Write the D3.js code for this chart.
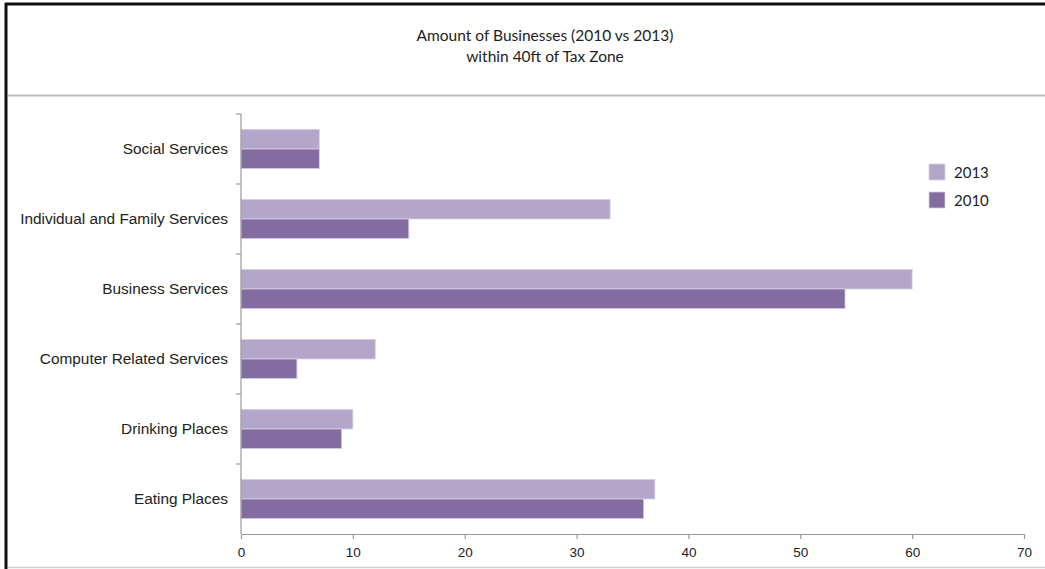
<!DOCTYPE html>
<html><head><meta charset="utf-8">
<script src="https://cdn.jsdelivr.net/npm/d3@7"></script>
<style>
html,body{margin:0;padding:0;background:#fff;}
svg{display:block;}
</style></head>
<body>
<svg id="chart" width="1045" height="569"></svg>
<script>
const categories = ["Social Services","Individual and Family Services","Business Services","Computer Related Services","Drinking Places","Eating Places"];
const seriesNames = ["2013","2010"];
const values2013 = [7,33,60,12,10,37];
const values2010 = [7,15,54,5,9,36];
const xTicks = [0,10,20,30,40,50,60,70];
const titleLines = ["Amount of Businesses (2010 vs 2013)","within 40ft of Tax Zone"];
const colors = ["#b4a6c8","#836ca0"];

const svg = d3.select("#chart");
// frame
svg.append("rect").attr("x",0).attr("y",0).attr("width",1045).attr("height",569).attr("fill","#fff");
svg.append("line").attr("x1",5).attr("x2",1045).attr("y1",4).attr("y2",4).attr("stroke","#111").attr("stroke-width",3);
svg.append("line").attr("x1",6).attr("x2",6).attr("y1",3).attr("y2",569).attr("stroke","#111").attr("stroke-width",3);
svg.append("line").attr("x1",8).attr("x2",1045).attr("y1",95.5).attr("y2",95.5).attr("stroke","#bdbdbd").attr("stroke-width",2);
svg.append("line").attr("x1",8).attr("x2",1045).attr("y1",567.5).attr("y2",567.5).attr("stroke","#cfcfcf").attr("stroke-width",1.5);

// title
svg.append("g").selectAll("text").data(titleLines).join("text")
  .attr("x",545).attr("y",(d,i)=>41+i*21)
  .attr("text-anchor","middle")
  .attr("font-family","Lato, 'Open Sans', sans-serif")
  .attr("font-size",15.5).attr("fill","#222")
  .text(d=>d);

const x = d3.scaleLinear().domain([0,70]).range([241,1024]);
const y = d3.scaleBand().domain(categories).range([114,534]).paddingInner(0.44).paddingOuter(0.22);
const ySub = d3.scaleBand().domain(seriesNames).range([0,y.bandwidth()]);

const data = categories.map((c,i)=>({cat:c, vals:[{s:"2013",v:values2013[i]},{s:"2010",v:values2010[i]}]}));

const groups = svg.append("g").selectAll("g").data(data).join("g")
  .attr("transform",d=>`translate(0,${y(d.cat)})`);
groups.selectAll("rect").data(d=>d.vals).join("rect")
  .attr("x",x(0)).attr("y",d=>ySub(d.s))
  .attr("width",d=>x(d.v)-x(0)).attr("height",ySub.bandwidth())
  .attr("fill",(d,i)=>colors[seriesNames.indexOf(d.s)])
  .attr("stroke","#d9cfe6").attr("stroke-width",0.8);

// y axis
const yAxisG = svg.append("g");
yAxisG.append("line").attr("x1",241).attr("x2",241).attr("y1",114).attr("y2",534).attr("stroke","#9a9a9a").attr("stroke-width",1.2);
const bounds = categories.map(c=>y(c)-y.step()*0.22);
yAxisG.selectAll("line.t").data(bounds).join("line").attr("class","t")
  .attr("x1",236).attr("x2",241).attr("y1",d=>d).attr("y2",d=>d)
  .attr("stroke","#9a9a9a").attr("stroke-width",1.2);
yAxisG.selectAll("text").data(categories).join("text")
  .attr("x",228).attr("y",d=>y(d)+y.bandwidth()/2)
  .attr("dy","0.35em").attr("text-anchor","end")
  .attr("font-family","'Liberation Sans', Arial, sans-serif")
  .attr("font-size",15.4).attr("fill","#222").text(d=>d);

// x axis
const xAxis = d3.axisBottom(x).tickValues(xTicks).tickSize(5).tickPadding(8).tickSizeOuter(0);
const xg = svg.append("g").attr("transform","translate(0,534)").call(xAxis);
xg.select(".domain").attr("stroke","#9a9a9a").attr("stroke-width",1.2);
xg.selectAll(".tick line").attr("stroke","#9a9a9a").attr("stroke-width",1.2);
xg.selectAll(".tick text").attr("font-family","'Liberation Sans Narrow','Liberation Sans', Arial, sans-serif").attr("font-size",13.5).attr("fill","#222");

// legend
const legend = svg.append("g").selectAll("g").data(seriesNames).join("g")
  .attr("transform",(d,i)=>`translate(929,${164+i*28})`);
legend.append("rect").attr("width",16).attr("height",16)
  .attr("fill",(d,i)=>colors[i]).attr("stroke","#d9cfe6").attr("stroke-width",0.8);
legend.append("text").attr("x",25).attr("y",9).attr("dy","0.35em")
  .attr("font-family","Lato, 'Open Sans', sans-serif").attr("font-size",15).attr("fill","#222").text(d=>d);
</script>
</body></html>
